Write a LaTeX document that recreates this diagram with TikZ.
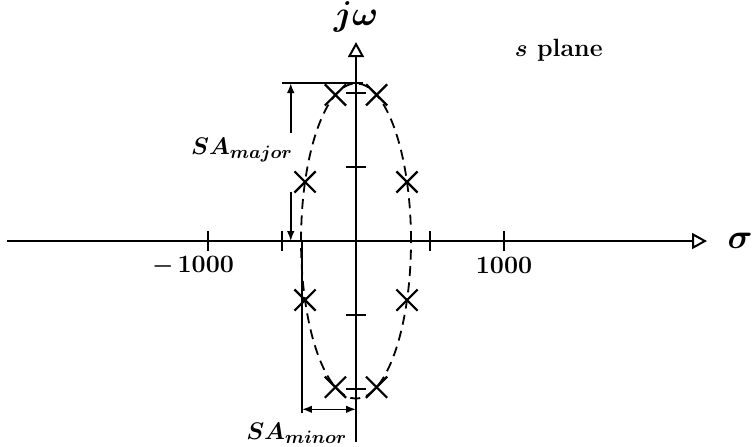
\documentclass[tikz,border=0pt]{standalone}
\usepackage{amsmath,amssymb}
\usepackage{tikz}
\usetikzlibrary{arrows.meta, positioning, calc, shapes.misc}
\tikzset{
  >=Latex,
  axisline/.style={line width=1pt, -{Triangle[open,length=7.5pt,width=8pt,line width=1pt]}},
  axtick/.style={line width=0.9pt},
  pole/.style={cross out, draw, line width=1.1pt, minimum size=9.5pt, inner sep=0pt},
  locus/.style={line width=0.9pt, dash pattern=on 5pt off 3.2pt},
  dimline/.style={line width=0.8pt},
  dimarr/.style={line width=0.8pt, -{Latex[length=5pt,width=3.8pt]}},
  dimboth/.style={line width=0.8pt, {Latex[length=5pt,width=3.8pt]}-{Latex[length=5pt,width=3.8pt]}},
  lab/.style={font=\fontsize{12.5}{15}\selectfont\bfseries\boldmath, inner sep=1pt},
  biglab/.style={font=\fontsize{16}{19}\selectfont\bfseries\boldmath, inner sep=1pt},
  salab/.style={font=\fontsize{13}{15}\selectfont\boldmath, inner sep=1pt}
}

\begin{document}
\begin{tikzpicture}[x=37pt,y=37pt]
  \useasboundingbox (-4.811,-2.770) rectangle (5.351,3.257);
  % axes
  \coordinate (sl) at (-4.716,0);
  \coordinate (sr) at (4.743,0);
  \coordinate (wb) at (0,-2.716);
  \coordinate (wt) at (0,2.689);
  \draw[axisline] (sl) -- (sr);
  \draw[axisline] (wb) -- (wt);
  \foreach \t in {-2,-1,1,2} {
    \draw[axtick] (\t,-0.135) -- (\t,0.135);
    \draw[axtick] (-0.135,\t) -- (0.135,\t);
  }
  \node[biglab] (sig) at (5.19,0) {$\sigma$};
  \node[biglab] (jw) at (0,3.027) {$j\omega$};
  \node[lab] (splane) at (2.74,2.58) {$s$ plane};
  \node[lab] (m1000) at (-2.203,-0.331) {$-$\,1000};
  \node[lab] (p1000) at (2,-0.331) {1000};
  % pole locus
  \draw[locus] (0,0) ellipse [x radius=0.743, y radius=2.13];
  \foreach \ang [count=\i] in {22,68,112,158,202,248,292,338}
    \node[pole] (p\i) at ({0.743*cos(\ang)},{2.13*sin(\ang)}) {};
  % major semi-axis
  \coordinate (mjl) at (-1.0,2.135);
  \coordinate (mjr) at (0.095,2.135);
  \coordinate (mjtop) at (-0.882,2.135);
  \coordinate (mja) at (-0.882,1.459);
  \coordinate (mjb) at (-0.882,0.666);
  \coordinate (mjbot) at (-0.882,0);
  \draw[dimline] (mjl) -- (mjr);
  \draw[dimarr] (mja) -- (mjtop);
  \draw[dimarr] (mjb) -- (mjbot);
  \node[salab] (lmaj) at (-1.54,1.23) {$SA_{major}$};
  % minor semi-axis
  \coordinate (mna) at (-0.73,0);
  \coordinate (mnb) at (-0.73,-2.324);
  \coordinate (mn1) at (-0.73,-2.274);
  \coordinate (mn2) at (0,-2.274);
  \draw[dimline] (mna) -- (mnb);
  \draw[dimboth] (mn1) -- (mn2);
  \node[salab] (lmin) at (-0.80,-2.595) {$SA_{minor}$};
\end{tikzpicture}
\end{document}
